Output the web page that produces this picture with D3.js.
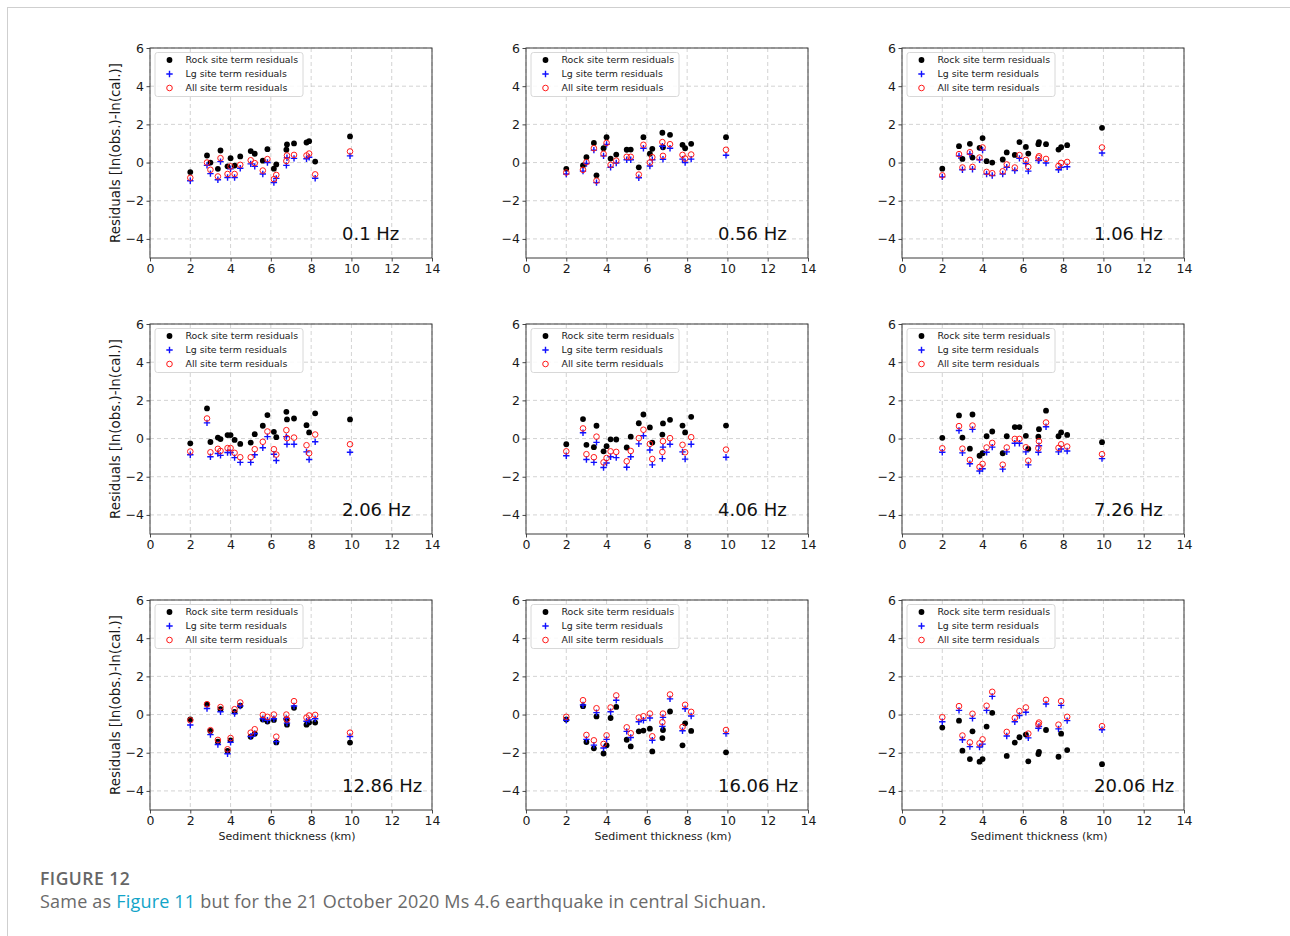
<!DOCTYPE html>
<html>
<head>
<meta charset="utf-8">
<script src="https://cdn.jsdelivr.net/npm/d3@7"></script>
<style>
  html, body { margin: 0; padding: 0; background: #fff; }
  svg { display: block; }
</style>
</head>
<body>
<svg id="fig" width="1290" height="936"></svg>
<script>
// Sediment thickness (km) at each station
const thickness = [2.0, 2.83, 3.0, 3.37, 3.5, 3.85, 4.0, 4.2, 4.48, 5.0, 5.2, 5.6, 5.83, 6.15, 6.27, 6.77, 6.8, 7.15, 7.77, 7.9, 8.2, 9.93];

const frequencies = ["0.1 Hz", "0.56 Hz", "1.06 Hz", "2.06 Hz", "4.06 Hz", "7.26 Hz", "12.86 Hz", "16.06 Hz", "20.06 Hz"];

const xTicks = [0, 2, 4, 6, 8, 10, 12, 14];
const yTicks = [-4, -2, 0, 2, 4, 6];

const legendLabels = ["Rock site term residuals", "Lg site term residuals", "All site term residuals"];

// Residuals using rock site terms, one row per frequency
const rockResiduals = [
  [-0.5, 0.37, 0.0, -0.33, 0.63, -0.2, 0.23, -0.16, 0.32, 0.6, 0.46, 0.1, 0.7, -0.32, -0.1, 0.67, 0.95, 1.0, 1.05, 1.12, 0.05, 1.37],
  [-0.33, -0.15, 0.28, 1.03, -0.67, 0.75, 1.33, 0.21, 0.42, 0.67, 0.68, -0.25, 1.33, 0.46, 0.72, 1.56, 0.8, 1.45, 0.93, 0.75, 0.98, 1.33],
  [-0.32, 0.86, 0.19, 0.98, 0.26, 0.77, 1.28, 0.07, 0.0, 0.16, 0.53, 0.4, 1.07, 0.82, 0.47, 0.96, 1.07, 0.96, 0.68, 0.8, 0.91, 1.82],
  [-0.25, 1.58, -0.18, 0.05, -0.03, 0.18, 0.18, -0.07, -0.28, -0.21, 0.23, 0.67, 1.23, 0.35, 0.07, 1.4, 1.0, 1.05, 0.7, 0.32, 1.32, 1.0],
  [-0.3, 1.02, -0.33, -0.45, 0.67, -0.67, -0.4, -0.04, -0.05, -0.47, 0.1, 0.8, 1.26, 0.58, -0.21, 0.21, 0.79, 0.98, 0.68, 0.32, 1.14, 0.68],
  [0.04, 1.21, 0.05, -0.53, 1.26, -0.9, -0.77, 0.12, 0.37, -0.77, 0.12, 0.6, 0.6, 0.14, -0.54, 0.1, 0.49, 1.46, 0.12, 0.32, 0.19, -0.19],
  [-0.25, 0.53, -0.86, -1.42, 0.28, -1.91, -1.35, 0.14, 0.46, -1.16, -1.0, -0.26, -0.37, -0.28, -1.46, -0.25, -0.53, 0.35, -0.53, -0.42, -0.42, -1.47],
  [-0.26, 0.44, -1.44, -1.77, -0.1, -2.04, -1.61, -0.18, 0.4, -1.32, -1.67, -0.88, -0.84, -0.74, -1.93, -1.23, -0.81, 0.16, -1.61, -0.46, -0.86, -1.98],
  [-0.68, -0.32, -1.89, -2.33, -0.88, -2.47, -2.33, -0.63, 0.09, null, -2.17, -1.47, -1.19, -1.05, -2.45, -2.07, -1.96, -0.81, -2.21, -1.0, -1.86, -2.6]
];

// Residuals using Lg site terms
const lgResiduals = [
  [-0.95, -0.15, -0.58, -0.9, 0.05, -0.78, -0.33, -0.78, -0.3, -0.07, -0.2, -0.6, 0.0, -1.05, -0.83, -0.15, 0.25, 0.22, 0.2, 0.28, -0.82, 0.35],
  [-0.6, -0.45, -0.05, 0.65, -1.05, 0.35, 0.95, -0.25, -0.02, 0.15, 0.15, -0.8, 0.75, -0.18, 0.15, 0.85, 0.17, 0.75, 0.18, 0.0, 0.18, 0.38],
  [-0.75, 0.35, -0.38, 0.45, -0.35, 0.15, 0.65, -0.6, -0.68, -0.6, -0.25, -0.42, 0.22, -0.05, -0.45, 0.1, 0.12, -0.02, -0.38, -0.25, -0.22, 0.5],
  [-0.85, 0.82, -0.95, -0.78, -0.88, -0.73, -0.73, -1.0, -1.25, -1.25, -0.85, -0.48, 0.1, -0.82, -1.15, 0.1, -0.3, -0.3, -0.7, -1.1, -0.17, -0.72],
  [-0.9, 0.3, -1.1, -1.25, -0.2, -1.52, -1.28, -0.95, -1.0, -1.5, -0.95, -0.28, 0.15, -0.6, -1.38, -1.05, -0.45, -0.3, -0.7, -1.08, -0.3, -0.98],
  [-0.72, 0.42, -0.75, -1.32, 0.48, -1.7, -1.58, -0.72, -0.45, -1.6, -0.7, -0.25, -0.25, -0.7, -1.38, -0.72, -0.38, 0.62, -0.7, -0.55, -0.65, -1.05],
  [-0.55, 0.32, -1.05, -1.57, 0.15, -2.05, -1.45, 0.05, 0.45, -1.15, -1.0, -0.22, -0.3, -0.22, -1.42, -0.2, -0.45, 0.45, -0.35, -0.28, -0.22, -1.15],
  [-0.3, 0.5, -1.3, -1.6, 0.1, -1.75, -1.3, 0.15, 0.75, -0.88, -1.2, -0.38, -0.3, -0.18, -1.35, -0.62, -0.15, 0.82, -0.85, 0.3, -0.08, -1.0],
  [-0.38, 0.22, -1.32, -1.68, -0.2, -1.7, -1.55, 0.22, 0.95, null, -1.12, -0.38, -0.05, 0.12, -1.22, -0.72, -0.62, 0.55, -0.75, 0.48, -0.32, -0.8]
];

// Residuals using site terms from all records
const allResiduals = [
  [-0.8, 0.0, -0.38, -0.73, 0.23, -0.6, -0.2, -0.6, -0.12, 0.12, -0.03, -0.42, 0.18, -0.87, -0.65, 0.08, 0.37, 0.4, 0.37, 0.47, -0.62, 0.58],
  [-0.52, -0.38, 0.02, 0.75, -0.95, 0.46, 1.03, -0.12, 0.1, 0.3, 0.3, -0.63, 0.93, 0.0, 0.28, 1.07, 0.35, 0.96, 0.4, 0.21, 0.42, 0.67],
  [-0.67, 0.44, -0.26, 0.54, -0.23, 0.26, 0.79, -0.49, -0.56, -0.46, -0.1, -0.26, 0.39, 0.14, -0.23, 0.25, 0.33, 0.19, -0.18, -0.02, 0.03, 0.79],
  [-0.68, 1.05, -0.72, -0.54, -0.65, -0.5, -0.5, -0.75, -0.98, -0.98, -0.56, -0.17, 0.37, -0.56, -0.84, 0.44, 0.02, 0.05, -0.35, -0.77, 0.21, -0.3],
  [-0.67, 0.53, -0.82, -0.98, 0.1, -1.25, -1.02, -0.67, -0.7, -1.19, -0.65, 0.02, 0.46, -0.28, -1.07, -0.7, -0.14, 0.02, -0.33, -0.72, 0.07, -0.58],
  [-0.51, 0.65, -0.53, -1.12, 0.68, -1.49, -1.33, -0.47, -0.23, -1.37, -0.47, -0.02, -0.02, -0.46, -1.16, -0.51, -0.14, 0.84, -0.49, -0.3, -0.42, -0.82],
  [-0.3, 0.54, -0.82, -1.33, 0.39, -1.82, -1.23, 0.28, 0.63, -0.95, -0.77, -0.02, -0.12, 0.0, -1.16, 0.0, -0.26, 0.7, -0.16, -0.05, -0.02, -0.95],
  [-0.12, 0.75, -1.07, -1.35, 0.33, -1.54, -1.09, 0.37, 1.0, -0.67, -0.98, -0.16, -0.09, 0.05, -1.14, -0.4, 0.05, 1.05, -0.65, 0.51, 0.14, -0.81],
  [-0.14, 0.44, -1.1, -1.46, 0.04, -1.51, -1.3, 0.46, 1.19, null, -0.91, -0.18, 0.18, 0.37, -1.0, -0.51, -0.42, 0.77, -0.53, 0.7, -0.12, -0.61]
];

const svg = d3.select("#fig");
const FONT = "'DejaVu Sans', sans-serif";

// Page frame lines
svg.append("line").attr("x1", 7).attr("x2", 1290).attr("y1", 7.5).attr("y2", 7.5)
  .attr("stroke", "#cfcfcf").attr("stroke-width", 1);
svg.append("line").attr("x1", 7.5).attr("x2", 7.5).attr("y1", 7).attr("y2", 936)
  .attr("stroke", "#cfcfcf").attr("stroke-width", 1);

const colLeft = [150, 526, 902];
const rowTop = [48, 324, 600];
const pw = 282, ph = 210;

const x = d3.scaleLinear().domain([0, 14]).range([0, pw]);
const y = d3.scaleLinear().domain([-5, 6]).range([ph, 0]);

const plusPath = "M-3.2,0H3.2M0,-3.2V3.2";

frequencies.forEach((freq, i) => {
  const col = i % 3, row = Math.floor(i / 3);
  const g = svg.append("g").attr("transform", `translate(${colLeft[col]},${rowTop[row]})`);

  // grid
  const grid = g.append("g").attr("stroke", "#c8c8c8").attr("stroke-width", 0.8)
    .attr("stroke-dasharray", "4,3");
  grid.selectAll("line.v").data(xTicks).join("line")
    .attr("x1", d => x(d)).attr("x2", d => x(d)).attr("y1", 0).attr("y2", ph);
  grid.selectAll("line.h").data(yTicks).join("line")
    .attr("x1", 0).attr("x2", pw).attr("y1", d => y(d)).attr("y2", y);

  // axes
  const xa = g.append("g").attr("transform", `translate(0,${ph})`)
    .call(d3.axisBottom(x).tickValues(xTicks).tickSize(3.5).tickPadding(2.5).tickFormat(d3.format("d")));
  const ya = g.append("g")
    .call(d3.axisLeft(y).tickValues(yTicks).tickSize(3.5).tickPadding(2.5).tickFormat(d3.format("d")));
  [xa, ya].forEach(a => {
    a.select(".domain").remove();
    a.selectAll("line").attr("stroke", "#333").attr("stroke-width", 0.9);
    a.selectAll("text").attr("font-family", FONT).attr("font-size", 12.5).attr("fill", "#1a1a1a");
  });

  // frame
  g.append("rect").attr("x", 0).attr("y", 0).attr("width", pw).attr("height", ph)
    .attr("fill", "none").attr("stroke", "#3a3a3a").attr("stroke-width", 1);

  const rows = thickness.map((t, k) => ({
    t, rock: rockResiduals[i][k], lg: lgResiduals[i][k], all: allResiduals[i][k]
  }));

  // rock site term residuals
  g.append("g").selectAll("circle").data(rows.filter(d => d.rock != null)).join("circle")
    .attr("cx", d => x(d.t)).attr("cy", d => y(d.rock)).attr("r", 2.9).attr("fill", "#000");
  // Lg site term residuals
  g.append("g").selectAll("path").data(rows.filter(d => d.lg != null)).join("path")
    .attr("d", plusPath).attr("transform", d => `translate(${x(d.t)},${y(d.lg)})`)
    .attr("stroke", "#1010ff").attr("stroke-width", 1.4).attr("fill", "none");
  // all site term residuals
  g.append("g").selectAll("circle").data(rows.filter(d => d.all != null)).join("circle")
    .attr("cx", d => x(d.t)).attr("cy", d => y(d.all)).attr("r", 2.8)
    .attr("fill", "none").attr("stroke", "#ff1a1a").attr("stroke-width", 1);

  // legend
  const lg = g.append("g").attr("transform", "translate(5,4.5)");
  lg.append("rect").attr("width", 148).attr("height", 44).attr("rx", 2.5)
    .attr("fill", "#fff").attr("fill-opacity", 0.85).attr("stroke", "#d4d4d4").attr("stroke-width", 0.9);
  legendLabels.forEach((lab, k) => {
    const cy = 7.5 + k * 14;
    if (k === 0) lg.append("circle").attr("cx", 14.5).attr("cy", cy).attr("r", 2.9).attr("fill", "#000");
    if (k === 1) lg.append("path").attr("d", plusPath).attr("transform", `translate(14.5,${cy})`)
      .attr("stroke", "#1010ff").attr("stroke-width", 1.4);
    if (k === 2) lg.append("circle").attr("cx", 14.5).attr("cy", cy).attr("r", 2.8)
      .attr("fill", "none").attr("stroke", "#ff1a1a").attr("stroke-width", 1);
    lg.append("text").attr("x", 30.5).attr("y", cy).attr("dy", "0.35em")
      .attr("font-family", FONT).attr("font-size", 9.4).attr("fill", "#1a1a1a").text(lab);
  });

  // frequency label
  g.append("text").attr("x", x(9.53)).attr("y", y(-4.05))
    .attr("font-family", FONT).attr("font-size", 18).attr("fill", "#111").text(freq);

  if (col === 0) {
    g.append("text").attr("transform", `translate(-35,${ph / 2}) rotate(-90)`)
      .attr("text-anchor", "middle").attr("dy", "0.35em")
      .attr("font-family", FONT).attr("font-size", 13.4).attr("fill", "#1a1a1a")
      .text("Residuals [ln(obs.)-ln(cal.)]");
  }
  if (row === 2) {
    g.append("text").attr("x", pw / 2 - 4).attr("y", ph + 26).attr("dy", "0.35em")
      .attr("text-anchor", "middle").attr("font-family", FONT).attr("font-size", 11).attr("fill", "#1a1a1a")
      .text("Sediment thickness (km)");
  }
});

// caption
const CAP = "'Open Sans', Lato, sans-serif";
svg.append("text").attr("x", 40).attr("y", 885).attr("font-family", CAP).attr("font-size", 17.5)
  .attr("letter-spacing", 0.5).attr("font-weight", 600).attr("fill", "#666").text("FIGURE 12");
const cap = svg.append("text").attr("x", 40).attr("y", 908).attr("font-family", CAP)
  .attr("font-size", 18).attr("letter-spacing", 0.2).attr("fill", "#6a6a6a");
cap.append("tspan").text("Same as ");
cap.append("tspan").attr("fill", "#12a4c8").text("Figure 11");
cap.append("tspan").text(" but for the 21 October 2020 Ms 4.6 earthquake in central Sichuan.");
</script>
</body>
</html>
